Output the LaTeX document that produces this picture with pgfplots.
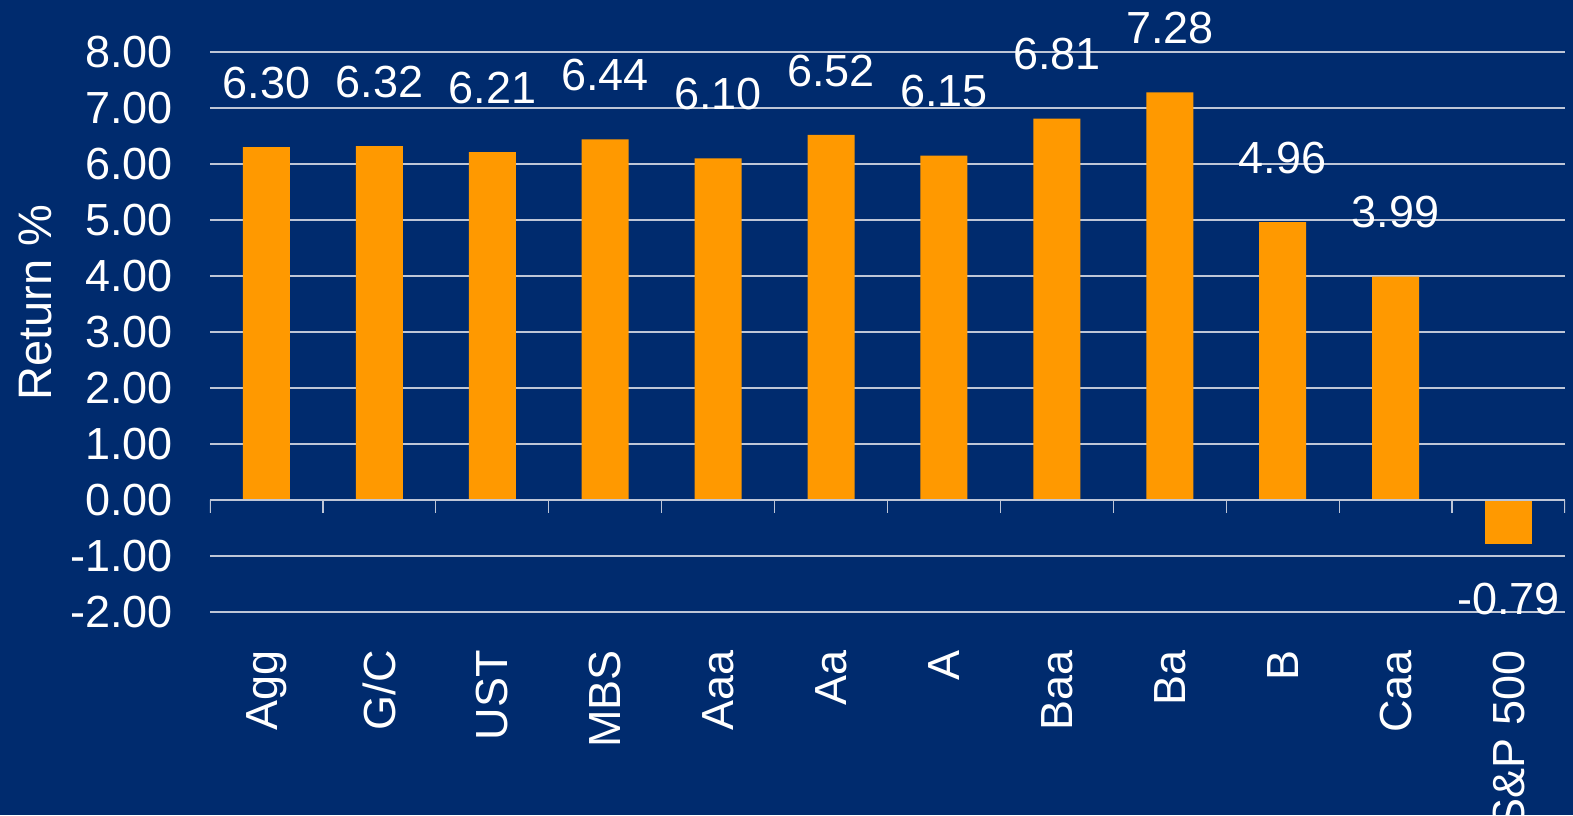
\documentclass[border=0pt]{standalone}
\usepackage{pgfplots}
\pgfplotsset{compat=1.18}
\usepackage{fontspec}
\setmainfont{Liberation Sans}
\definecolor{navy}{RGB}{0,43,110}
\definecolor{barorange}{RGB}{255,153,0}
\definecolor{gridc}{RGB}{190,198,215}
\pgfplotsset{/pgf/number format/assume math mode=true}

\begin{document}
\begin{tikzpicture}
\fill[navy] (0,0) rectangle (786.5pt,407.5pt);
\useasboundingbox (0,0) rectangle (786.5pt,407.5pt);
\begin{axis}[
    at={(105pt,101.5pt)}, anchor=south west,
    scale only axis, width=677.5pt, height=280pt,
    xmin=-0.5, xmax=11.5, ymin=-2, ymax=8,
    ybar, bar width=23.5pt, bar shift=0pt,
    axis line style={draw=none},
    major tick length=0pt,
    xtick={0,...,11},
    xticklabels={Agg,G/C,UST,MBS,Aaa,Aa,A,Baa,Ba,B,Caa,S\&P 500},
    ytick={-2,...,8},
    every tick label/.append style={font=\fontsize{22.5}{26}\selectfont, text=white},
    x tick label style={rotate=90, anchor=east, inner sep=0pt},
    xticklabel shift=19pt,
    y tick label style={anchor=east, inner sep=0pt, xshift=-18.5pt,
        /pgf/number format/fixed, /pgf/number format/fixed zerofill,
        /pgf/number format/precision=2},
    ymajorgrids=true,
    grid style={gridc, line width=0.6pt},
    ylabel={Return \%},
    ylabel style={at={(axis description cs:-0.129,0.552)}, anchor=center,
        font=\fontsize{23.5}{26}\selectfont, text=white},
    nodes near coords={\pgfmathprintnumber[fixed,fixed zerofill,precision=2]{\pgfplotspointmeta}},
    nodes near coords style={font=\fontsize{22.5}{26}\selectfont, text=white, inner sep=0pt},
]
% bonds and ratings, positive returns
\addplot[fill=barorange, draw=none,
    every node near coord/.append style={yshift=24pt}]
    coordinates {
    (0,6.30) (1,6.32) (2,6.21) (3,6.44) (4,6.10) (5,6.52)
    (6,6.15) (7,6.81) (8,7.28) (9,4.96) (10,3.99)
    };
% S&P 500
\addplot[fill=barorange, draw=none,
    every node near coord/.append style={yshift=-19pt}]
    coordinates {(11,-0.79)};
\draw[gridc, line width=0.6pt] (axis cs:-0.5,0) -- (axis cs:11.5,0);
\pgfplotsinvokeforeach{-0.5,0.5,...,11.5}{
    \draw[gridc, line width=0.6pt] (axis cs:#1,0) -- ([yshift=-6.5pt]axis cs:#1,0);
}
\end{axis}
\end{tikzpicture}
\end{document}
